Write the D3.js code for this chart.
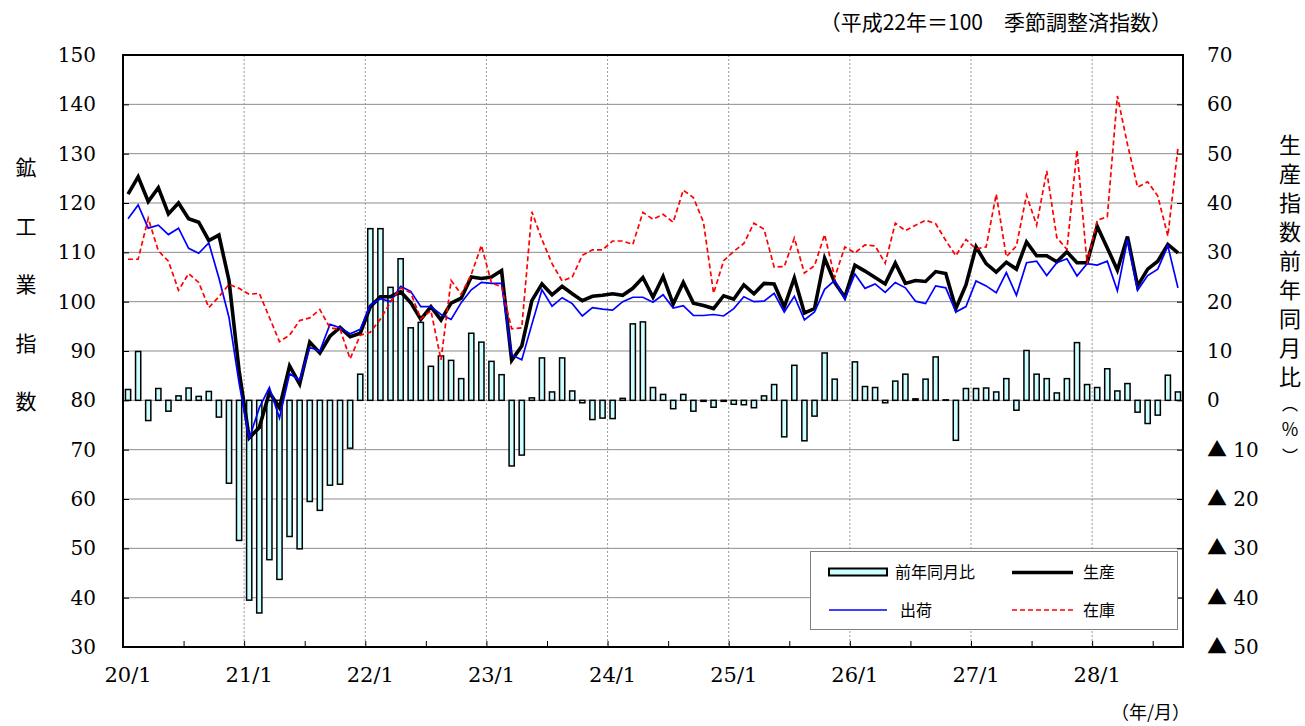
<!DOCTYPE html>
<html lang="ja">
<head>
<meta charset="utf-8">
<title>鉱工業指数の推移</title>
<script src="https://cdn.jsdelivr.net/npm/d3@7"></script>
<style>
  body { margin: 0; background: #fff; }
  svg { display: block; }
  .num { font-family: "DejaVu Serif", "Liberation Serif", serif; font-size: 20px; fill: #000; }
  .jp { font-family: "Noto Sans CJK JP", sans-serif; fill: #000; }
</style>
</head>
<body>
<script>
// Width and height
var w = 1305;
var h = 726;

// Data (平成20年1月 - 平成28年9月, monthly)
var years = [20, 21, 22, 23, 24, 25, 26, 27, 28];
var months = [];
years.forEach(function(y) {
    for (var m = 1; m <= 12; m++) months.push(y + "/" + m);
});
months = months.slice(0, 105);

// 生産
var production = [
    121.8, 125.3, 120.3, 123.1, 117.8, 120.0, 116.8, 116.1, 112.4, 113.5, 104.3, 86.0,
    72.4, 74.5, 81.6, 78.5, 87.0, 83.3, 91.8, 89.6, 93.0, 94.8, 92.9, 93.6,
    99.0, 101.0, 101.0, 102.0, 99.8, 96.4, 99.0, 96.3, 99.7, 100.7, 105.0, 104.7,
    105.0, 106.3, 88.1, 91.0, 100.2, 103.6, 101.4, 103.1, 101.6, 100.2, 101.1, 101.3,
    101.6, 101.3, 102.7, 104.9, 100.9, 105.1, 99.5, 103.9, 99.7, 99.2, 98.6, 101.2,
    100.5, 103.4, 101.6, 103.7, 103.6, 98.9, 104.8, 97.7, 98.6, 108.8, 103.9, 100.9,
    107.4, 106.2, 104.9, 103.6, 107.8, 103.7, 104.3, 104.1, 106.1, 105.7, 98.6, 103.4,
    111.1, 107.7, 106.0, 108.0, 106.6, 112.1, 109.3, 109.3, 108.1, 110.1, 107.9, 107.9,
    115.3, 110.9, 106.4, 113.2, 103.2, 106.6, 108.2, 111.6, 109.9
];

// 出荷
var shipments = [
    116.8, 119.6, 114.9, 115.5, 113.6, 114.9, 110.8, 109.8, 111.9, 104.8, 96.8, 83.5,
    72.2, 78.5, 82.6, 76.4, 85.4, 84.1, 90.7, 90.0, 95.4, 94.7, 93.5, 94.4,
    99.3, 100.6, 100.0, 103.1, 102.1, 99.0, 99.0, 97.4, 96.4, 99.8, 102.4, 103.9,
    103.7, 103.7, 89.2, 88.2, 95.4, 102.4, 99.1, 100.8, 99.6, 97.1, 98.8, 98.5,
    98.3, 100.0, 100.9, 100.9, 99.9, 101.4, 98.7, 99.2, 97.2, 97.2, 97.4, 97.1,
    98.6, 101.0, 100.0, 100.1, 101.7, 97.9, 101.1, 96.3, 97.9, 102.5, 104.3, 100.5,
    105.6, 102.7, 103.6, 101.9, 103.9, 102.8, 100.1, 99.6, 103.2, 102.8, 97.9, 99.0,
    104.2, 103.2, 101.8, 105.9, 101.3, 107.9, 108.2, 105.3, 107.9, 108.7, 105.2, 107.7,
    107.4, 108.2, 102.2, 112.6, 102.3, 105.3, 106.6, 111.3, 102.8
];

// 在庫
var inventory = [
    108.6, 108.6, 116.9, 110.3, 108.2, 102.3, 105.7, 103.9, 98.8, 101.0, 103.5, 102.7,
    101.5, 101.7, 96.8, 91.9, 93.2, 96.2, 96.7, 98.4, 94.7, 94.4, 88.4, 93.2,
    93.8, 96.5, 99.9, 102.8, 101.8, 96.5, 98.2, 88.2, 104.3, 101.5, 105.5, 111.4,
    103.8, 103.0, 94.5, 94.7, 118.2, 112.6, 107.7, 104.2, 105.0, 109.4, 110.5, 110.5,
    112.3, 112.3, 111.6, 118.1, 116.7, 117.7, 116.1, 122.6, 121.1, 116.1, 101.7, 108.3,
    110.2, 111.8, 115.9, 114.7, 107.0, 107.1, 112.9, 105.8, 107.3, 113.6, 104.9, 111.1,
    109.9, 111.5, 111.3, 107.8, 115.9, 114.4, 115.5, 116.5, 115.8, 112.4, 109.3, 112.6,
    110.7, 111.1, 121.8, 109.1, 111.3, 121.6, 115.5, 126.5, 113.0, 110.6, 130.7, 107.7,
    116.5, 117.2, 141.7, 131.9, 123.2, 124.3, 121.4, 113.3, 131.2
];

// 生産指数前年同月比 (%)
var yoy = [
    2.2, 9.9, -4.1, 2.4, -2.2, 0.9, 2.5, 0.8, 1.8, -3.4, -16.8, -28.4,
    -40.5, -43.1, -32.3, -36.3, -27.6, -30.1, -20.5, -22.3, -17.2, -17.0, -9.7, 5.3,
    34.8, 34.8, 22.9, 28.7, 14.7, 15.8, 6.9, 9.0, 8.1, 4.4, 13.6, 11.8,
    7.9, 5.2, -13.3, -11.1, 0.5, 8.6, 1.7, 8.6, 1.9, -0.5, -3.9, -3.6,
    -3.7, 0.4, 15.5, 15.9, 2.6, 1.2, -1.7, 1.2, -2.2, -0.2, -1.4, -0.2,
    -0.8, -0.9, -1.5, 0.9, 3.2, -7.4, 7.1, -8.2, -3.2, 9.6, 4.3, 0.0,
    7.8, 2.8, 2.6, -0.5, 3.9, 5.3, 0.3, 4.3, 8.8, 0.1, -8.1, 2.4,
    2.4, 2.5, 1.7, 4.4, -2.0, 10.1, 5.3, 4.4, 1.5, 4.4, 11.7, 3.2,
    2.6, 6.4, 1.9, 3.4, -2.4, -4.7, -3.0, 5.1, 1.7
];

var leftTicks = [30, 40, 50, 60, 70, 80, 90, 100, 110, 120, 130, 140, 150];
var rightTicks = [70, 60, 50, 40, 30, 20, 10, 0, -10, -20, -30, -40, -50];

// Plot area
var plotL = 123, plotR = 1183, plotT = 55, plotB = 647;

// Scales
var x = d3.scaleBand()
    .domain(d3.range(months.length))
    .range([plotL, plotR]);
var xEdge = d3.scaleLinear()
    .domain([0, months.length])
    .range([plotL, plotR]);
var yL = d3.scaleLinear().domain([30, 150]).range([plotB, plotT]);
var yR = d3.scaleLinear().domain([-50, 70]).range([plotB, plotT]);

var svg = d3.select("body")
    .append("svg")
    .attr("width", w)
    .attr("height", h);

// Horizontal gridlines
svg.append("g")
    .selectAll("line")
    .data(leftTicks)
    .enter()
    .append("line")
    .attr("x1", plotL).attr("x2", plotR)
    .attr("y1", function(d) { return yL(d); })
    .attr("y2", function(d) { return yL(d); })
    .style("stroke", "#8c8c8c")
    .style("stroke-width", 1);

// Vertical dotted gridlines at each January
var yearEdges = d3.range(12, months.length, 12);
svg.append("g")
    .selectAll("line")
    .data(yearEdges)
    .enter()
    .append("line")
    .attr("x1", function(d) { return xEdge(d); })
    .attr("x2", function(d) { return xEdge(d); })
    .attr("y1", plotT).attr("y2", plotB)
    .style("stroke", "#999")
    .style("stroke-width", 1)
    .style("stroke-dasharray", "2,2");

// Bars (前年同月比)
var barW = 5.2;
svg.append("g")
    .selectAll("rect")
    .data(yoy)
    .enter()
    .append("rect")
    .attr("x", function(d, i) { return x(i) + (x.bandwidth() - barW) / 2; })
    .attr("y", function(d) { return yR(Math.max(0, d)); })
    .attr("width", barW)
    .attr("height", function(d) { return Math.abs(yR(d) - yR(0)); })
    .style("fill", "#ccffff")
    .style("stroke", "#000")
    .style("stroke-width", 1.5);

// Lines
var line = d3.line()
    .x(function(d, i) { return x(i) + x.bandwidth() / 2; })
    .y(function(d) { return yL(d); });

svg.append("path")
    .attr("d", line(production))
    .style("fill", "none")
    .style("stroke", "#000")
    .style("stroke-width", 3.6);

svg.append("path")
    .attr("d", line(shipments))
    .style("fill", "none")
    .style("stroke", "#0000ff")
    .style("stroke-width", 1.7);

svg.append("path")
    .attr("d", line(inventory))
    .style("fill", "none")
    .style("stroke", "#ff0000")
    .style("stroke-width", 1.7)
    .style("stroke-dasharray", "5,3");

// Axes
var axisL = svg.append("g")
    .attr("transform", "translate(" + plotL + ",0)")
    .call(d3.axisLeft(yL).tickValues(leftTicks).tickSize(-6).tickPadding(27));

var axisR = svg.append("g")
    .attr("transform", "translate(" + plotR + ",0)")
    .call(d3.axisRight(yR).tickValues(rightTicks).tickSize(-6).tickPadding(24)
        .tickFormat(function(d) { return d < 0 ? (-d) : d; }));

// half-year tick marks on the bottom
var axisB = svg.append("g")
    .attr("transform", "translate(0," + plotB + ")")
    .call(d3.axisBottom(xEdge).tickValues(d3.range(6, months.length, 6)).tickSize(-6).tickFormat(""));

// January labels
var axisM = svg.append("g")
    .attr("transform", "translate(0," + plotB + ")")
    .call(d3.axisBottom(x).tickValues(d3.range(0, months.length, 12)).tickSize(0).tickPadding(20)
        .tickFormat(function(i) { return months[i]; }));

[axisL, axisR, axisB, axisM].forEach(function(a) {
    a.attr("font-size", null).attr("font-family", null);
    a.select(".domain").remove();
    a.selectAll("line").style("stroke", "#000").style("stroke-width", 1);
    a.selectAll("text").attr("class", "num");
});
axisM.selectAll("text").style("font-size", "21px");

// ▲ for negative values on right axis
axisR.selectAll(".tick text").each(function(d) {
    if (d < 0) {
        var t = d3.select(this);
        t.text(null);
        t.append("tspan").attr("class", "jp").style("font-size", "20px").text("▲");
        t.append("tspan").text(" " + (-d));
    }
});

// Frame
svg.append("rect")
    .attr("x", plotL).attr("y", plotT)
    .attr("width", plotR - plotL).attr("height", plotB - plotT)
    .style("fill", "none")
    .style("stroke", "#000")
    .style("stroke-width", 2);

// Axis titles (vertical, one character per line)
var leftTitle = "鉱工業指数".split("");
svg.append("text")
    .attr("class", "jp")
    .attr("text-anchor", "middle")
    .style("font-size", "21px")
    .selectAll("tspan")
    .data(leftTitle)
    .enter()
    .append("tspan")
    .attr("x", 26)
    .attr("y", function(d, i) { return 175 + i * 58.5; })
    .text(function(d) { return d; });

var rightTitle = ["生", "産", "指", "数", "前", "年", "同", "月", "比", "︵", "％", "︶"];
var rightY = [153, 182, 211, 240, 269, 298, 327, 356, 385, 410, 436, 462];
var rightSize = [22, 22, 22, 22, 22, 22, 22, 22, 22, 16, 18, 16];
svg.append("text")
    .attr("class", "jp")
    .attr("text-anchor", "middle")
    .style("font-size", "22px")
    .selectAll("tspan")
    .data(rightTitle)
    .enter()
    .append("tspan")
    .attr("x", 1290)
    .attr("y", function(d, i) { return rightY[i]; })
    .style("font-size", function(d, i) { return rightSize[i] + "px"; })
    .text(function(d) { return d; });

// Notes
svg.append("text")
    .attr("class", "jp")
    .attr("x", 1172).attr("y", 30)
    .attr("text-anchor", "end")
    .style("font-size", "21px")
    .text("（平成22年＝100　季節調整済指数）");

svg.append("text")
    .attr("class", "jp")
    .attr("x", 1190).attr("y", 719)
    .attr("text-anchor", "end")
    .style("font-size", "18px")
    .text("（年/月）");

// Legend
var legend = svg.append("g");
legend.append("rect")
    .attr("x", 810.5).attr("y", 551.5)
    .attr("width", 367).attr("height", 78)
    .style("fill", "#fff")
    .style("stroke", "#808080")
    .style("stroke-width", 1);

legend.append("rect")
    .attr("x", 829).attr("y", 568.5)
    .attr("width", 58).attr("height", 7)
    .style("fill", "#ccffff").style("stroke", "#000").style("stroke-width", 2);
legend.append("line")
    .attr("x1", 1012).attr("x2", 1073).attr("y1", 572.5).attr("y2", 572.5)
    .style("stroke", "#000").style("stroke-width", 3.6);
legend.append("line")
    .attr("x1", 829).attr("x2", 887).attr("y1", 610).attr("y2", 610)
    .style("stroke", "#0000ff").style("stroke-width", 1.7);
legend.append("line")
    .attr("x1", 1012).attr("x2", 1073).attr("y1", 610).attr("y2", 610)
    .style("stroke", "#ff0000").style("stroke-width", 1.7).style("stroke-dasharray", "5,3");

var legendText = [
    { t: "前年同月比", x: 895, y: 578 },
    { t: "生産", x: 1083, y: 578 },
    { t: "出荷", x: 900, y: 616 },
    { t: "在庫", x: 1083, y: 616 }
];
legend.selectAll("text")
    .data(legendText)
    .enter()
    .append("text")
    .attr("class", "jp")
    .attr("x", function(d) { return d.x; })
    .attr("y", function(d) { return d.y; })
    .style("font-size", "16px")
    .text(function(d) { return d.t; });
</script>
</body>
</html>
